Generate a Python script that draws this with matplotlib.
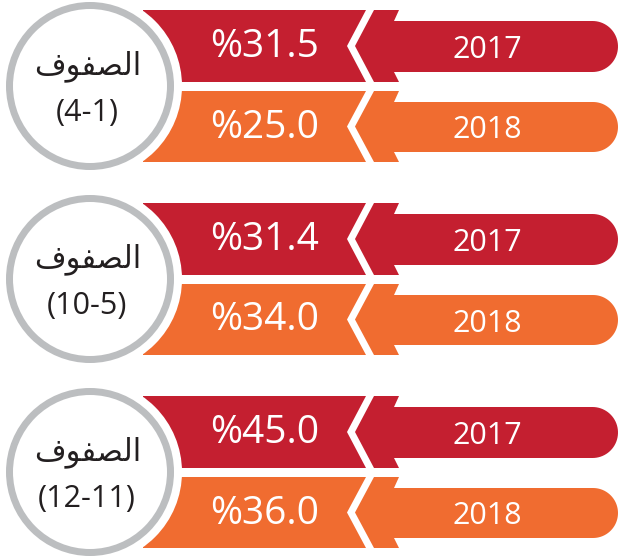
import numpy as np
import matplotlib
matplotlib.use("Agg")
import matplotlib.pyplot as plt
from matplotlib.patches import Polygon, Circle

# data
grades = ["(4-1)", "(10-5)", "(12-11)"]
grade_word = "\uFED1\uFEEE\uFED4\uFEBC\uFEDF\uFE8D"  # الصفوف (shaped, visual order)
years = ["2017", "2018"]
values_2017 = [31.5, 31.4, 45.0]
values_2018 = [25.0, 34.0, 36.0]

RED = "#C41F30"
ORANGE = "#F06C30"
RING = "#BCBEC0"
DARK = "#231F20"

W, H = 619, 558
fig = plt.figure(figsize=(W / 100, H / 100), dpi=100)
ax = fig.add_axes([0, 0, 1, 1])
ax.set_xlim(0, W)
ax.set_ylim(H, 0)
ax.axis('off')


def value_box(top, bot, color):
	mid = (top + bot) / 2
	pts = [(143, top), (366, top), (347, mid), (366, bot), (143, bot)]
	ax.add_patch(Polygon(pts, closed=True, fc=color, ec='none', zorder=1))


def year_arrow(top, bot, color):
	mid = (top + bot) / 2
	btop, bbot = top + 11, bot - 10
	r = (bbot - btop) / 2
	cx = 618 - r
	cy = (btop + bbot) / 2
	th = np.linspace(-np.pi / 2, np.pi / 2, 40)
	arc = [(cx + r * np.cos(t), cy + r * np.sin(t)) for t in th]
	pts = [(374, top), (399, top), (394, btop)] + arc + [(394, bbot), (399, bot), (374, bot), (355, mid)]
	ax.add_patch(Polygon(pts, closed=True, fc=color, ec='none', zorder=1))


for i in range(len(grades)):
	off = 193 * i
	rows = [(10 + off, 82 + off, RED, values_2017[i], years[0]),
			(91 + off, 162 + off, ORANGE, values_2018[i], years[1])]
	for top, bot, col, val, yr in rows:
		value_box(top, bot, col)
		year_arrow(top, bot, col)
		ax.text(265, (top + bot) / 2 + 1, "%" + f"{val:.1f}", color='white',
				fontsize=28, family=['Open Sans', 'DejaVu Sans'],
				ha='center', va='center', zorder=3)
		ax.text(487, (top + bot) / 2 + 4, yr, color='white',
				fontsize=22, family=['Open Sans', 'DejaVu Sans'],
				ha='center', va='center', zorder=3)

	cy = 86 + off
	ax.add_patch(Circle((90, cy), 92, fc='white', ec='none', zorder=2))
	ax.add_patch(Circle((90, cy), 80.5, fc='white', ec=RING, lw=7 * 72 / 100, zorder=2))
	ax.text(88, cy - 20, grade_word, color=DARK, fontsize=22,
			family=['DejaVu Sans'], ha='center', va='center', zorder=3)
	ax.text(87, cy + 27, grades[i], color=DARK, fontsize=22,
			family=['Open Sans', 'DejaVu Sans'], ha='center', va='center', zorder=3)

fig.savefig("out.png", dpi=100)
